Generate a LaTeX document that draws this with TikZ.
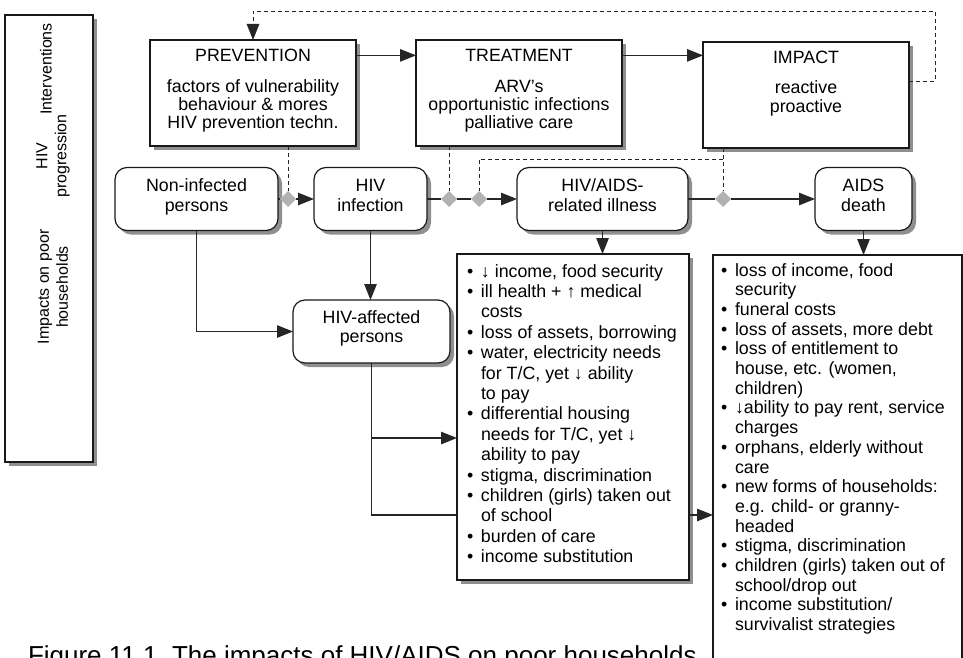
\documentclass[tikz,border=0pt]{standalone}
\usepackage{fontspec}
\setmainfont{Liberation Sans}
\usetikzlibrary{arrows.meta,shadows,shapes.geometric}
% bullet and hanging indent for the impact lists
\newcommand\bitem{\makebox[14pt][l]{\textbullet}}
\newcommand\citem{\hspace*{14pt}}
\begin{document}
\begin{tikzpicture}[x=1pt,y=-1pt,
  every node/.style={inner sep=0pt,outer sep=0pt},
  softshadow/.style={drop shadow={shadow xshift=4pt,shadow yshift=-4pt,fill=black!55,opacity=.8}},
  sqbox/.style={draw=black!90,line width=1.2pt,fill=white,softshadow},
  roundbox/.style={sqbox,rounded corners=12pt},
  txt/.style={font=\fontsize{17.8}{20.4}\selectfont,text=black},
  sidetxt/.style={font=\fontsize{16}{19}\selectfont,text=black,align=center,rotate=90},
  link/.style={draw=black!85,line width=1.1pt},
  tip/.style={-{Triangle[length=16pt,width=12.5pt]}},
  arr/.style={link,tip},
  dashlink/.style={draw=black!85,line width=0.9pt,dash pattern=on 4pt off 3pt},
  gem/.style={diamond,fill=black!30,minimum width=16pt,minimum height=16pt}
]
\useasboundingbox (0,0) rectangle (963,658);
% (multi-line nodes below are placed by the baseline of their last line)

% ---- row labels ----
\node[sqbox,minimum width=88pt,minimum height=447pt] (side) at (49,238.5) {};
\node[sidetxt] (lblint) at (46,69) {Interventions};
\node[sidetxt] (lblhiv) at (53,156) {HIV\\progression};
\node[sidetxt] (lblimp) at (53,287) {Impacts on poor\\households};

% ---- interventions ----
\node[sqbox,minimum width=206pt,minimum height=106pt] (prev) at (253,93) {};
\node[txt,anchor=base] (prevT) at (253,61.5) {PREVENTION};
\node[txt,anchor=base,align=center,font=\fontsize{17.8}{18}\selectfont] (prevB) at (253,128.5)
  {factors of vulnerability\\behaviour \& mores\\HIV prevention techn.};

\node[sqbox,minimum width=206pt,minimum height=106pt] (treat) at (519,93) {};
\node[txt,anchor=base] (treatT) at (519,61.5) {TREATMENT};
\node[txt,anchor=base,align=center,font=\fontsize{17.8}{18}\selectfont] (treatB) at (519,128.5)
  {ARV’s\\opportunistic infections\\palliative care};

\node[sqbox,minimum width=206pt,minimum height=106pt] (impact) at (806,95) {};
\node[txt,anchor=base] (impactT) at (806,63.5) {IMPACT};
\node[txt,anchor=base,align=center,font=\fontsize{17.8}{19.5}\selectfont] (impactB) at (806,113)
  {reactive\\proactive};

\draw[arr] (prev.east |- prevT) -- (treat.west |- prevT);
\draw[arr] (treat.east |- prevT) -- (impact.west |- prevT);

% ---- HIV progression ----
\node[roundbox,minimum width=163pt,minimum height=63pt] (noninf) at (196.5,199) {};
\node[txt,anchor=base,align=center] (noninfT) at (196.5,211.4) {Non-infected\\persons};
\node[roundbox,minimum width=113pt,minimum height=63pt] (hivinf) at (370.5,199) {};
\node[txt,anchor=base,align=center] (hivinfT) at (370.5,211.4) {HIV\\infection};
\node[roundbox,minimum width=171pt,minimum height=63pt] (illness) at (602.5,199) {};
\node[txt,anchor=base,align=center] (illnessT) at (602.5,211.4) {HIV/AIDS-\\related illness};
\node[roundbox,minimum width=97pt,minimum height=63pt] (death) at (863.5,199) {};
\node[txt,anchor=base,align=center] (deathT) at (863.5,211.4) {AIDS\\death};

\node[gem] (d1) at (288,199) {};
\node[gem] (d2) at (449,199) {};
\node[gem] (d3) at (479,199) {};
\node[gem] (d4) at (723,199) {};

\draw[link] (noninf.east) -- (d1);
\draw[arr] (d1) -- (hivinf.west);
\draw[link] (hivinf.east) -- (d2);
\draw[link] (d2) -- (d3);
\draw[arr] (d3) -- (illness.west);
\draw[link] (illness.east) -- (d4);
\draw[arr] (d4) -- (death.west);

% intervention points on the progression
\coordinate (turnlevel) at (0,159);
\coordinate (fblevel) at (0,81);
\coordinate (fbcorner) at (935,11);
\draw[dashlink] (prev.south -| d1) -- (d1);
\draw[dashlink] (treat.south -| d2) -- (d2);
\draw[dashlink] (impact.south -| d4) -- (d4);
\draw[dashlink] (d4 |- turnlevel) -| (d3);
\draw[dashlink,tip] (impact.east |- fblevel) -| (fbcorner) -| (prev.north);

% ---- impacts on poor households ----
\node[roundbox,minimum width=157pt,minimum height=63pt] (haff) at (371.5,331.5) {};
\node[txt,anchor=base,align=center,font=\fontsize{17.8}{19}\selectfont] (haffT) at (371.5,342) {HIV-affected\\persons};

\node[sqbox,minimum width=232pt,minimum height=326pt] (midlist) at (573,417) {};
\node[txt,anchor=base west,align=left] (midlistT) at (467,562.6) {%
\bitem↓ income, food security\\
\bitem ill health + ↑ medical\\
\citem costs\\
\bitem loss of assets, borrowing\\
\bitem water, electricity needs\\
\citem for T/C, yet ↓ ability\\
\citem to pay\\
\bitem differential housing\\
\citem needs for T/C, yet ↓\\
\citem ability to pay\\
\bitem stigma, discrimination\\
\bitem children (girls) taken out\\
\citem of school\\
\bitem burden of care\\
\bitem income substitution};

\node[draw=black!90,line width=1.2pt,fill=white,minimum width=249pt,minimum height=425pt] (deathlist) at (837.5,467.5) {};
\node[txt,anchor=base west,align=left,font=\fontsize{17.8}{19.7}\selectfont] (deathlistT) at (721,630.6) {%
\bitem loss of income, food\\
\citem security\\
\bitem funeral costs\\
\bitem loss of assets, more debt\\
\bitem loss of entitlement to\\
\citem house, etc. (women,\\
\citem children)\\
\bitem↓ability to pay rent, service\\
\citem charges\\
\bitem orphans, elderly without\\
\citem care\\
\bitem new forms of households:\\
\citem e.g. child- or granny-\\
\citem headed\\
\bitem stigma, discrimination\\
\bitem children (girls) taken out of\\
\citem school/drop out\\
\bitem income substitution/\\
\citem survivalist strategies};

\coordinate (sidelevel) at (0,438);
\coordinate (lowlevel) at (0,515);
\draw[arr] (noninf.south) |- (haff.west);
\draw[arr] (hivinf.south) -- (hivinf.south |- haff.north);
\draw[arr] (illness.south) -- (illness.south |- midlist.north);
\draw[arr] (death.south) -- (death.south |- deathlist.north);
\draw[link] (haff.south) |- (midlist.west |- lowlevel);
\draw[arr] (haff.south |- sidelevel) -- (midlist.west |- sidelevel);
\draw[arr] (midlist.east |- lowlevel) -- (deathlist.west |- lowlevel);

\node[font=\fontsize{26}{30}\selectfont,text=black,anchor=base west] (caption) at (28,664)
  {Figure 11.1\ \ The impacts of HIV/AIDS on poor households};
\end{tikzpicture}
\end{document}
